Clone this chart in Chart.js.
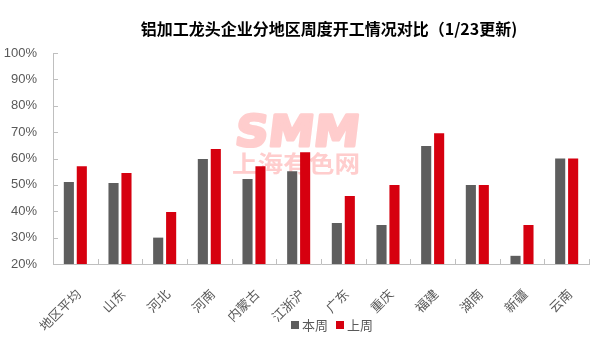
<!DOCTYPE html>
<html>
<head>
<meta charset="utf-8">
<script src="https://cdn.jsdelivr.net/npm/chart.js@4.4.1/dist/chart.umd.min.js"></script>
<style>
  html, body { margin: 0; padding: 0; background: #fff; }
  #wrap { width: 599px; height: 341px; }
</style>
</head>
<body>
<div id="wrap"><canvas id="chartAluminio"></canvas></div>
<script>
// Datos
const regiones = ['地区平均', '山东', '河北', '河南', '内蒙古', '江浙沪', '广东', '重庆', '福建', '湖南', '新疆', '云南'];
const benZhou = [51.1, 50.7, 30, 59.8, 52.2, 55.2, 35.5, 34.8, 64.7, 50, 23.1, 60];
const shangZhou = [57.1, 54.5, 39.7, 63.6, 57.1, 62.4, 45.8, 50, 69.6, 50, 34.8, 60];
const yMin = 20;
const yMax = 100;
const yStep = 10;
const titulo = '铝加工龙头企业分地区周度开工情况对比（1/23更新)';

const CJK = '"Noto Sans CJK SC", sans-serif';
const LATIN = '"Liberation Sans", "Noto Sans CJK SC", sans-serif';
const GRIS = '#595959';

// Titulo desplazado a la derecha como en el original
const tituloPlugin = {
  id: 'tituloPlugin',
  afterDraw(chart) {
    const { ctx } = chart;
    ctx.save();
    ctx.fillStyle = '#000';
    ctx.font = 'bold 16px ' + CJK;
    ctx.textAlign = 'center';
    ctx.textBaseline = 'middle';
    ctx.fillText(titulo, 329, 29);
    ctx.restore();
  }
};

// Leyenda inferior (dibujada a mano para que se solape con las etiquetas)
const leyenda = {
  id: 'leyenda',
  afterDraw(chart) {
    const { ctx } = chart;
    ctx.save();
    ctx.font = '13px ' + CJK;
    ctx.textBaseline = 'middle';
    ctx.textAlign = 'left';
    const items = chart.data.datasets.map(ds => ({ label: ds.label, color: ds.backgroundColor, w: ctx.measureText(ds.label).width }));
    const total = items.reduce((s, it) => s + 11 + it.w, 0) + 8 * (items.length - 1);
    let x = 332 - total / 2;
    const yc = 325;
    items.forEach(it => {
      ctx.fillStyle = it.color;
      ctx.fillRect(x, yc - 4, 8, 8);
      ctx.fillStyle = GRIS;
      ctx.fillText(it.label, x + 11, yc);
      x += 11 + it.w + 8;
    });
    ctx.restore();
  }
};

// Marcas hacia dentro en ambos ejes
const marcasInternas = {
  id: 'marcasInternas',
  afterDatasetsDraw(chart) {
    const { ctx, scales: { x, y } } = chart;
    ctx.save();
    ctx.strokeStyle = '#BFBFBF';
    ctx.lineWidth = 1;
    ctx.beginPath();
    const n = regiones.length;
    for (let i = 0; i <= n; i++) {
      const px = Math.round(x.left + (x.right - x.left) * i / n) + 0.5;
      ctx.moveTo(px, y.bottom);
      ctx.lineTo(px, y.bottom - 5);
    }
    y.ticks.forEach(t => {
      const py = Math.round(y.getPixelForValue(t.value)) + 0.5;
      ctx.moveTo(x.left, py);
      ctx.lineTo(x.left + 5, py);
    });
    ctx.stroke();
    ctx.restore();
  }
};

// Marca de agua SMM
const marcaAgua = {
  id: 'marcaAgua',
  beforeDatasetsDraw(chart) {
    const { ctx } = chart;
    const cx = 296;
    ctx.save();
    ctx.fillStyle = '#FFCDCD';
    ctx.strokeStyle = '#FFCDCD';
    ctx.lineWidth = 3;
    ctx.lineJoin = 'round';
    ctx.textAlign = 'center';
    ctx.textBaseline = 'alphabetic';
    ctx.font = 'bold 43px "DejaVu Sans", sans-serif';
    const w = ctx.measureText('SMM').width;
    ctx.translate(cx, 146);
    ctx.transform(124 / w, 0, -0.12, 1, 0, 0);
    ctx.fillText('SMM', 0, 0);
    ctx.strokeText('SMM', 0, 0);
    ctx.restore();
    ctx.save();
    ctx.fillStyle = '#FFCDCD';
    ctx.textAlign = 'center';
    ctx.textBaseline = 'middle';
    ctx.font = 'bold 23px ' + CJK;
    const w2 = ctx.measureText('上海有色网').width;
    ctx.translate(cx, 163);
    ctx.scale(128 / w2, 1);
    ctx.fillText('上海有色网', 0, 0);
    ctx.restore();
  }
};

new Chart(document.getElementById('chartAluminio'), {
  type: 'bar',
  data: {
    labels: regiones,
    datasets: [
      { label: '本周', data: benZhou, backgroundColor: '#5E5E5E', categoryPercentage: 0.58, barPercentage: 0.78 },
      { label: '上周', data: shangZhou, backgroundColor: '#D6000F', categoryPercentage: 0.58, barPercentage: 0.78 }
    ]
  },
  options: {
    responsive: true,
    maintainAspectRatio: false,
    animation: false,
    layout: { padding: { left: 0, right: 10, top: 53, bottom: 0 } },
    plugins: {
      title: { display: false },
      legend: { display: false },
      tooltip: { enabled: false }
    },
    scales: {
      x: {
        grid: { display: false },
        border: { display: true, color: '#BFBFBF' },
        ticks: {
          color: GRIS,
          font: { family: CJK, size: 13 },
          minRotation: 45,
          maxRotation: 45,
          padding: 14,
          labelOffset: 3
        },
        afterFit(scale) { scale.height = 77; }
      },
      y: {
        min: yMin,
        max: yMax,
        grid: { display: false },
        border: { display: true, color: '#BFBFBF' },
        ticks: {
          stepSize: yStep,
          color: GRIS,
          font: { family: LATIN, size: 13 },
          padding: 8,
          callback: v => v + '%'
        },
        afterFit(scale) { scale.width = 53; }
      }
    }
  },
  plugins: [marcaAgua, marcasInternas, tituloPlugin, leyenda]
});
</script>
</body>
</html>
